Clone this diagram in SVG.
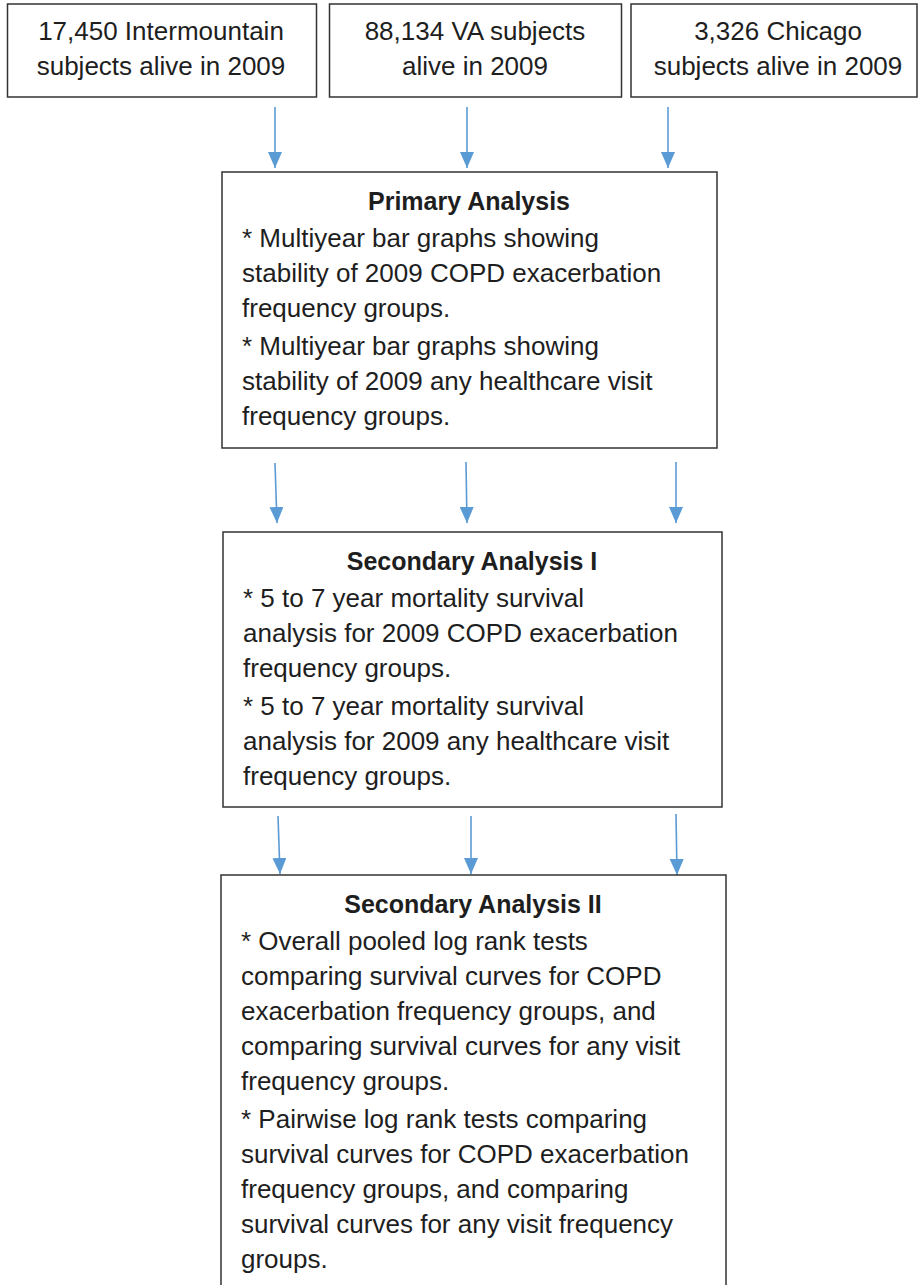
<svg xmlns="http://www.w3.org/2000/svg" width="918" height="1285" viewBox="0 0 918 1285">
<style>
.box{fill:#fff;stroke:#333;stroke-width:1.5}
.t{font-family:"Liberation Sans",Arial,sans-serif;font-size:26px;fill:#1e1e1e}
.c{text-anchor:middle}
.b{font-weight:bold;font-size:25px}
.arr{stroke:#5B9BD5;stroke-width:1.6;fill:none;marker-end:url(#ah)}
</style>
<defs>
<marker id="ah" markerUnits="userSpaceOnUse" markerWidth="16" markerHeight="14" refX="16" refY="7" orient="auto">
<path d="M0,0 L16,7 L0,14 z" fill="#5B9BD5"/>
</marker>
</defs>
<rect width="918" height="1285" fill="#fff"/>
<g id="connectors">
<line class="arr" x1="275" y1="107" x2="275" y2="168"/>
<line class="arr" x1="467" y1="107" x2="467" y2="168"/>
<line class="arr" x1="668" y1="107" x2="668" y2="168"/>
<line class="arr" x1="275" y1="463" x2="277" y2="523"/>
<line class="arr" x1="466" y1="462" x2="467" y2="523"/>
<line class="arr" x1="676" y1="462" x2="676" y2="523"/>
<line class="arr" x1="278" y1="816" x2="280" y2="874"/>
<line class="arr" x1="471" y1="816" x2="471" y2="874"/>
<line class="arr" x1="676" y1="814" x2="677" y2="875"/>
</g>
<g id="intermountain">
<rect class="box" x="7.5" y="4" width="309" height="93"/>
<text class="t c" x="161" y="40">17,450 Intermountain</text>
<text class="t c" x="161" y="75">subjects alive in 2009</text>
</g>
<g id="va">
<rect class="box" x="329.5" y="4" width="292" height="93"/>
<text class="t c" x="475" y="40">88,134 VA subjects</text>
<text class="t c" x="475" y="75">alive in 2009</text>
</g>
<g id="chicago">
<rect class="box" x="631" y="4" width="286" height="93"/>
<text class="t c" x="778" y="40">3,326 Chicago</text>
<text class="t c" x="778" y="75">subjects alive in 2009</text>
</g>
<g id="primary">
<rect class="box" x="222" y="172" width="495" height="276"/>
<text class="t c b" x="469" y="210">Primary Analysis</text>
<text class="t" x="242" y="247">* Multiyear bar graphs showing</text>
<text class="t" x="242" y="282">stability of 2009 COPD exacerbation</text>
<text class="t" x="242" y="317">frequency groups.</text>
<text class="t" x="242" y="355">* Multiyear bar graphs showing</text>
<text class="t" x="242" y="390">stability of 2009 any healthcare visit</text>
<text class="t" x="242" y="425">frequency groups.</text>
</g>
<g id="secondary1">
<rect class="box" x="223" y="532" width="499" height="275"/>
<text class="t c b" x="472" y="570">Secondary Analysis I</text>
<text class="t" x="243" y="607">* 5 to 7 year mortality survival</text>
<text class="t" x="243" y="642">analysis for 2009 COPD exacerbation</text>
<text class="t" x="243" y="677">frequency groups.</text>
<text class="t" x="243" y="715">* 5 to 7 year mortality survival</text>
<text class="t" x="243" y="750">analysis for 2009 any healthcare visit</text>
<text class="t" x="243" y="785">frequency groups.</text>
</g>
<g id="secondary2">
<path class="box" d="M221,1290 V875 H726 V1290"/>
<text class="t c b" x="473" y="913">Secondary Analysis II</text>
<text class="t" x="241" y="950">* Overall pooled log rank tests</text>
<text class="t" x="241" y="985">comparing survival curves for COPD</text>
<text class="t" x="241" y="1020">exacerbation frequency groups, and</text>
<text class="t" x="241" y="1055">comparing survival curves for any visit</text>
<text class="t" x="241" y="1090">frequency groups.</text>
<text class="t" x="241" y="1128">* Pairwise log rank tests comparing</text>
<text class="t" x="241" y="1163">survival curves for COPD exacerbation</text>
<text class="t" x="241" y="1198">frequency groups, and comparing</text>
<text class="t" x="241" y="1233">survival curves for any visit frequency</text>
<text class="t" x="241" y="1268">groups.</text>
</g>
</svg>
